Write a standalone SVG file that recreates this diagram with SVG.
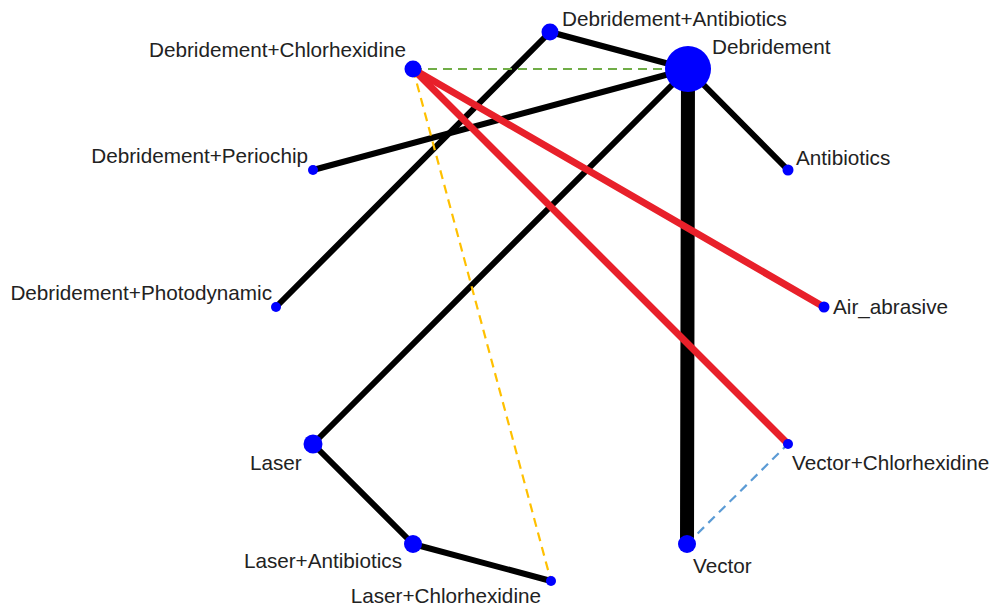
<svg xmlns="http://www.w3.org/2000/svg" width="995" height="610" viewBox="0 0 995 610">
<style>
.e{stroke:#000;stroke-width:6;stroke-linecap:round;fill:none}
.r{stroke:#E8202A;stroke-width:7;stroke-linecap:round;fill:none}
.d{stroke-width:2.2;stroke-dasharray:9 6;fill:none}
.n{fill:#0000FF}
text{font-family:"Liberation Sans",Arial,sans-serif;font-size:20.7px;fill:#222}
</style>
<rect width="995" height="610" fill="#fff"/>
<g id="connectors">
<line class="e" x1="688" y1="69" x2="687" y2="544" style="stroke-width:14"/>
<line class="e" x1="688" y1="69" x2="788" y2="170"/>
<line class="e" x1="688" y1="69" x2="550" y2="32"/>
<line class="e" x1="688" y1="69" x2="313" y2="170"/>
<line class="e" x1="688" y1="69" x2="313" y2="444"/>
<line class="e" x1="550" y1="32" x2="276" y2="307"/>
<line class="e" x1="313" y1="444" x2="413" y2="544"/>
<line class="e" x1="413" y1="544" x2="551" y2="581"/>
<line class="r" x1="413" y1="69" x2="824" y2="307"/>
<line class="r" x1="413" y1="69" x2="788" y2="444"/>
<line class="d" x1="413" y1="69" x2="688" y2="69" stroke="#70AD47"/>
<line class="d" x1="413" y1="69" x2="551" y2="581" stroke="#FFC000"/>
<line class="d" x1="687" y1="544" x2="788" y2="444" stroke="#5B9BD5"/>
</g>
<g id="n-debridement"><circle class="n" cx="688" cy="69" r="23"/><text x="712" y="54">Debridement</text></g>
<g id="n-deb-antibiotics"><circle class="n" cx="550" cy="32" r="8.5"/><text x="562" y="26">Debridement+Antibiotics</text></g>
<g id="n-deb-chlorhexidine"><circle class="n" cx="413" cy="69" r="8.5"/><text x="406" y="57" text-anchor="end">Debridement+Chlorhexidine</text></g>
<g id="n-deb-periochip"><circle class="n" cx="313" cy="170" r="5"/><text x="308" y="163" text-anchor="end">Debridement+Periochip</text></g>
<g id="n-deb-photodynamic"><circle class="n" cx="276" cy="307" r="5"/><text x="272" y="300" text-anchor="end">Debridement+Photodynamic</text></g>
<g id="n-laser"><circle class="n" cx="313" cy="444" r="9.5"/><text x="250" y="470">Laser</text></g>
<g id="n-laser-antibiotics"><circle class="n" cx="413" cy="544" r="9"/><text x="402" y="568" text-anchor="end">Laser+Antibiotics</text></g>
<g id="n-laser-chlorhexidine"><circle class="n" cx="551" cy="581" r="5"/><text x="541" y="603" text-anchor="end">Laser+Chlorhexidine</text></g>
<g id="n-vector"><circle class="n" cx="687" cy="544" r="9"/><text x="693" y="573">Vector</text></g>
<g id="n-vector-chlorhexidine"><circle class="n" cx="788" cy="444" r="5"/><text x="792" y="470">Vector+Chlorhexidine</text></g>
<g id="n-air-abrasive"><circle class="n" cx="824" cy="307" r="5.5"/><text x="833" y="314">Air_abrasive</text></g>
<g id="n-antibiotics"><circle class="n" cx="788" cy="170" r="5.5"/><text x="796" y="165">Antibiotics</text></g>
</svg>
